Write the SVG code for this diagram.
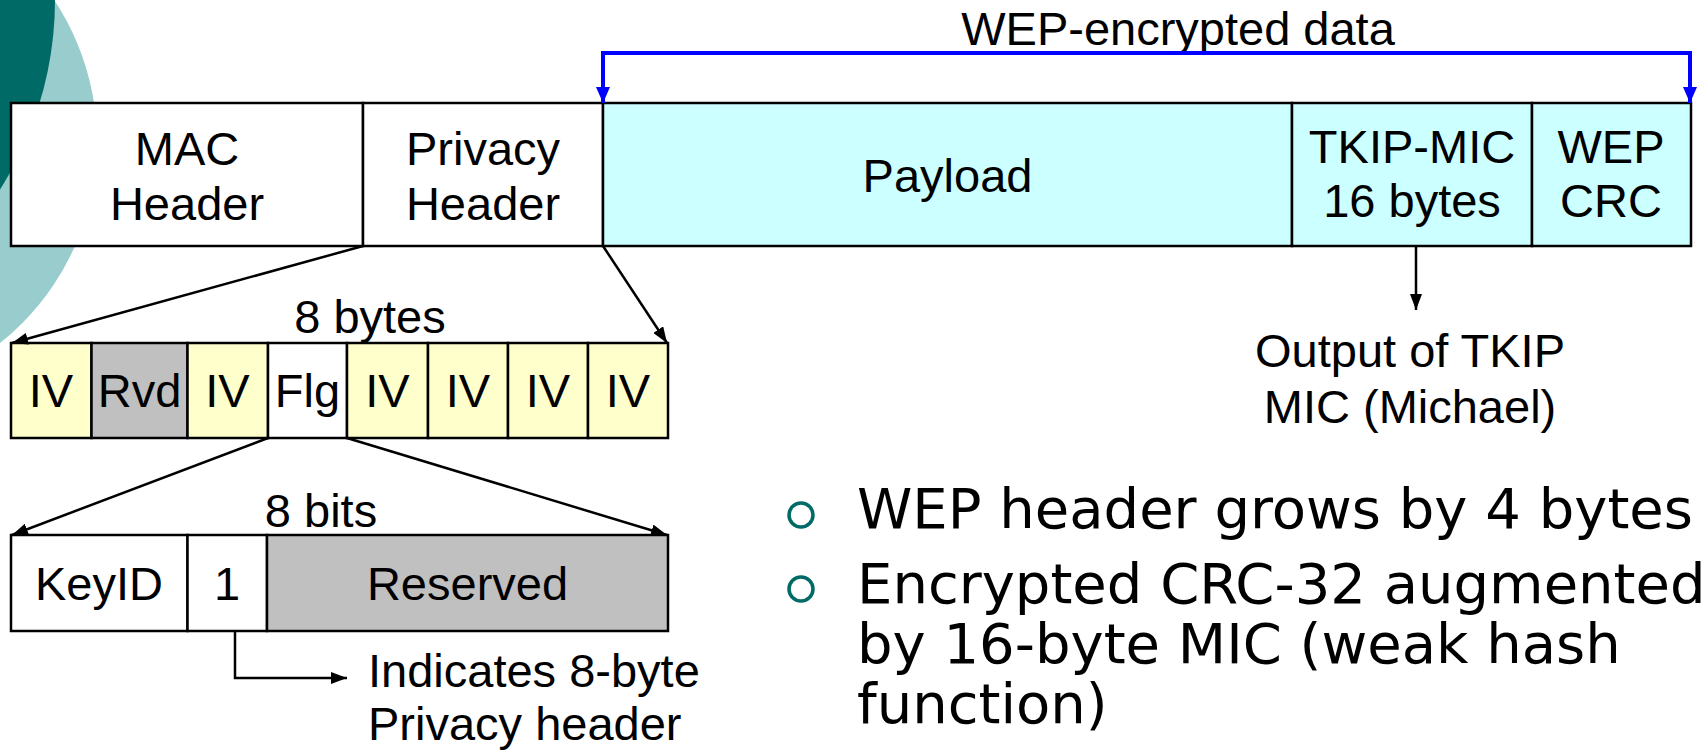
<svg xmlns="http://www.w3.org/2000/svg" width="1701" height="751" viewBox="0 0 1701 751">
  <style>
    .cell { stroke: #000; stroke-width: 2.5; }
    .plain { fill: #FFFFFF; }
    .data { fill: #CCFFFF; }
    .iv { fill: #FFFFCC; }
    .rsv { fill: #C0C0C0; }
    .lbl { font-family: "Liberation Sans", Arial, sans-serif; font-size: 47px; fill: #000; text-anchor: middle; }
    .note { font-family: "Liberation Sans", Arial, sans-serif; font-size: 47px; fill: #000; }
    .bullet { font-family: "DejaVu Sans", Verdana, sans-serif; font-size: 56px; fill: #000; }
    .dot { fill: none; stroke: #006B66; stroke-width: 3.5; }
    .link { fill: none; stroke: #000; stroke-width: 2.5; }
    .span { fill: none; stroke: #0000FF; stroke-width: 4; }
  </style>
  <defs>
    <marker id="arrow" viewBox="0 0 16 12" refX="16" refY="6" markerWidth="16" markerHeight="12" markerUnits="userSpaceOnUse" orient="auto">
      <path d="M0,0 L16,6 L0,12 z" fill="#000"/>
    </marker>
    <marker id="arrow-blue" viewBox="0 0 16 14" refX="16" refY="7" markerWidth="16" markerHeight="14" markerUnits="userSpaceOnUse" orient="auto">
      <path d="M0,0 L16,7 L0,14 z" fill="#0000FF"/>
    </marker>
  </defs>

  <!-- background ornament -->
  <g id="ornament">
    <circle cx="-160" cy="142" r="257" fill="#99CCCC"/>
    <ellipse cx="-330" cy="0" rx="385" ry="368" fill="#006B66"/>
  </g>

  <!-- frame fields -->
  <g id="mac-header">
    <rect class="cell plain" x="11" y="103" width="352" height="143"/>
    <text class="lbl" x="187" y="165">MAC</text>
    <text class="lbl" x="187" y="220">Header</text>
  </g>
  <g id="privacy-header">
    <rect class="cell plain" x="363" y="103" width="240" height="143"/>
    <text class="lbl" x="483" y="165">Privacy</text>
    <text class="lbl" x="483" y="220">Header</text>
  </g>
  <g id="payload">
    <rect class="cell data" x="603" y="103" width="689" height="143"/>
    <text class="lbl" x="947.5" y="192">Payload</text>
  </g>
  <g id="tkip-mic">
    <rect class="cell data" x="1292" y="103" width="240" height="143"/>
    <text class="lbl" x="1412" y="163">TKIP-MIC</text>
    <text class="lbl" x="1412" y="217">16 bytes</text>
  </g>
  <g id="wep-crc">
    <rect class="cell data" x="1532" y="103" width="159" height="143"/>
    <text class="lbl" x="1611" y="163">WEP</text>
    <text class="lbl" x="1611" y="217">CRC</text>
  </g>

  <g id="wep-encrypted-label">
    <text class="lbl" x="1178" y="45">WEP-encrypted data</text>
  </g>

  <!-- privacy header bytes -->
  <g id="privacy-bytes">
    <rect class="cell iv" x="11" y="343" width="80.5" height="95"/>
    <rect class="cell rsv" x="91.5" y="343" width="96" height="95"/>
    <rect class="cell iv" x="187.5" y="343" width="80.5" height="95"/>
    <rect class="cell plain" x="268" y="343" width="79" height="95"/>
    <rect class="cell iv" x="347" y="343" width="81" height="95"/>
    <rect class="cell iv" x="428" y="343" width="80" height="95"/>
    <rect class="cell iv" x="508" y="343" width="80" height="95"/>
    <rect class="cell iv" x="588" y="343" width="80" height="95"/>
    <text class="lbl" x="51" y="407">IV</text>
    <text class="lbl" x="139.5" y="407">Rvd</text>
    <text class="lbl" x="227.5" y="407">IV</text>
    <text class="lbl" x="307.5" y="407">Flg</text>
    <text class="lbl" x="387.5" y="407">IV</text>
    <text class="lbl" x="468" y="407">IV</text>
    <text class="lbl" x="548" y="407">IV</text>
    <text class="lbl" x="628" y="407">IV</text>
  </g>
  <g id="bytes-label">
    <text class="lbl" x="370" y="333">8 bytes</text>
  </g>

  <!-- flag bits -->
  <g id="flag-bits">
    <rect class="cell plain" x="11" y="535" width="176.5" height="96"/>
    <rect class="cell plain" x="187.5" y="535" width="79.5" height="96"/>
    <rect class="cell rsv" x="267" y="535" width="401" height="96"/>
    <text class="lbl" x="99" y="600">KeyID</text>
    <text class="lbl" x="227" y="600">1</text>
    <text class="lbl" x="467.5" y="600">Reserved</text>
  </g>
  <g id="bits-label">
    <text class="lbl" x="321" y="527">8 bits</text>
  </g>

  <g id="flag-note">
    <text class="note" x="368" y="687">Indicates 8-byte</text>
    <text class="note" x="368" y="740">Privacy header</text>
  </g>

  <g id="mic-note">
    <text class="lbl" x="1410" y="367">Output of TKIP</text>
    <text class="lbl" x="1410" y="423">MIC (Michael)</text>
  </g>

  <!-- bullet points -->
  <g id="bullets">
    <circle class="dot" cx="801" cy="515" r="12"/>
    <circle class="dot" cx="801" cy="589" r="12"/>
    <text class="bullet" x="857" y="528">WEP header grows by 4 bytes</text>
    <text class="bullet" x="857" y="603">Encrypted CRC-32 augmented</text>
    <text class="bullet" x="857" y="663">by 16-byte MIC (weak hash</text>
    <text class="bullet" x="857" y="723">function)</text>
  </g>

  <!-- connectors -->
  <g id="connectors">
    <path class="span" d="M603,53 H1690"/>
    <path class="span" d="M603,51 V103" marker-end="url(#arrow-blue)"/>
    <path class="span" d="M1690,51 V103" marker-end="url(#arrow-blue)"/>
    <path class="link" d="M363,246 L12,343" marker-end="url(#arrow)"/>
    <path class="link" d="M603,246 L667,343" marker-end="url(#arrow)"/>
    <path class="link" d="M268,438 L12,535" marker-end="url(#arrow)"/>
    <path class="link" d="M347,438 L667,535" marker-end="url(#arrow)"/>
    <path class="link" d="M235,631 V678 H347" marker-end="url(#arrow)"/>
    <path class="link" d="M1416,246 V310" marker-end="url(#arrow)"/>
  </g>
</svg>
